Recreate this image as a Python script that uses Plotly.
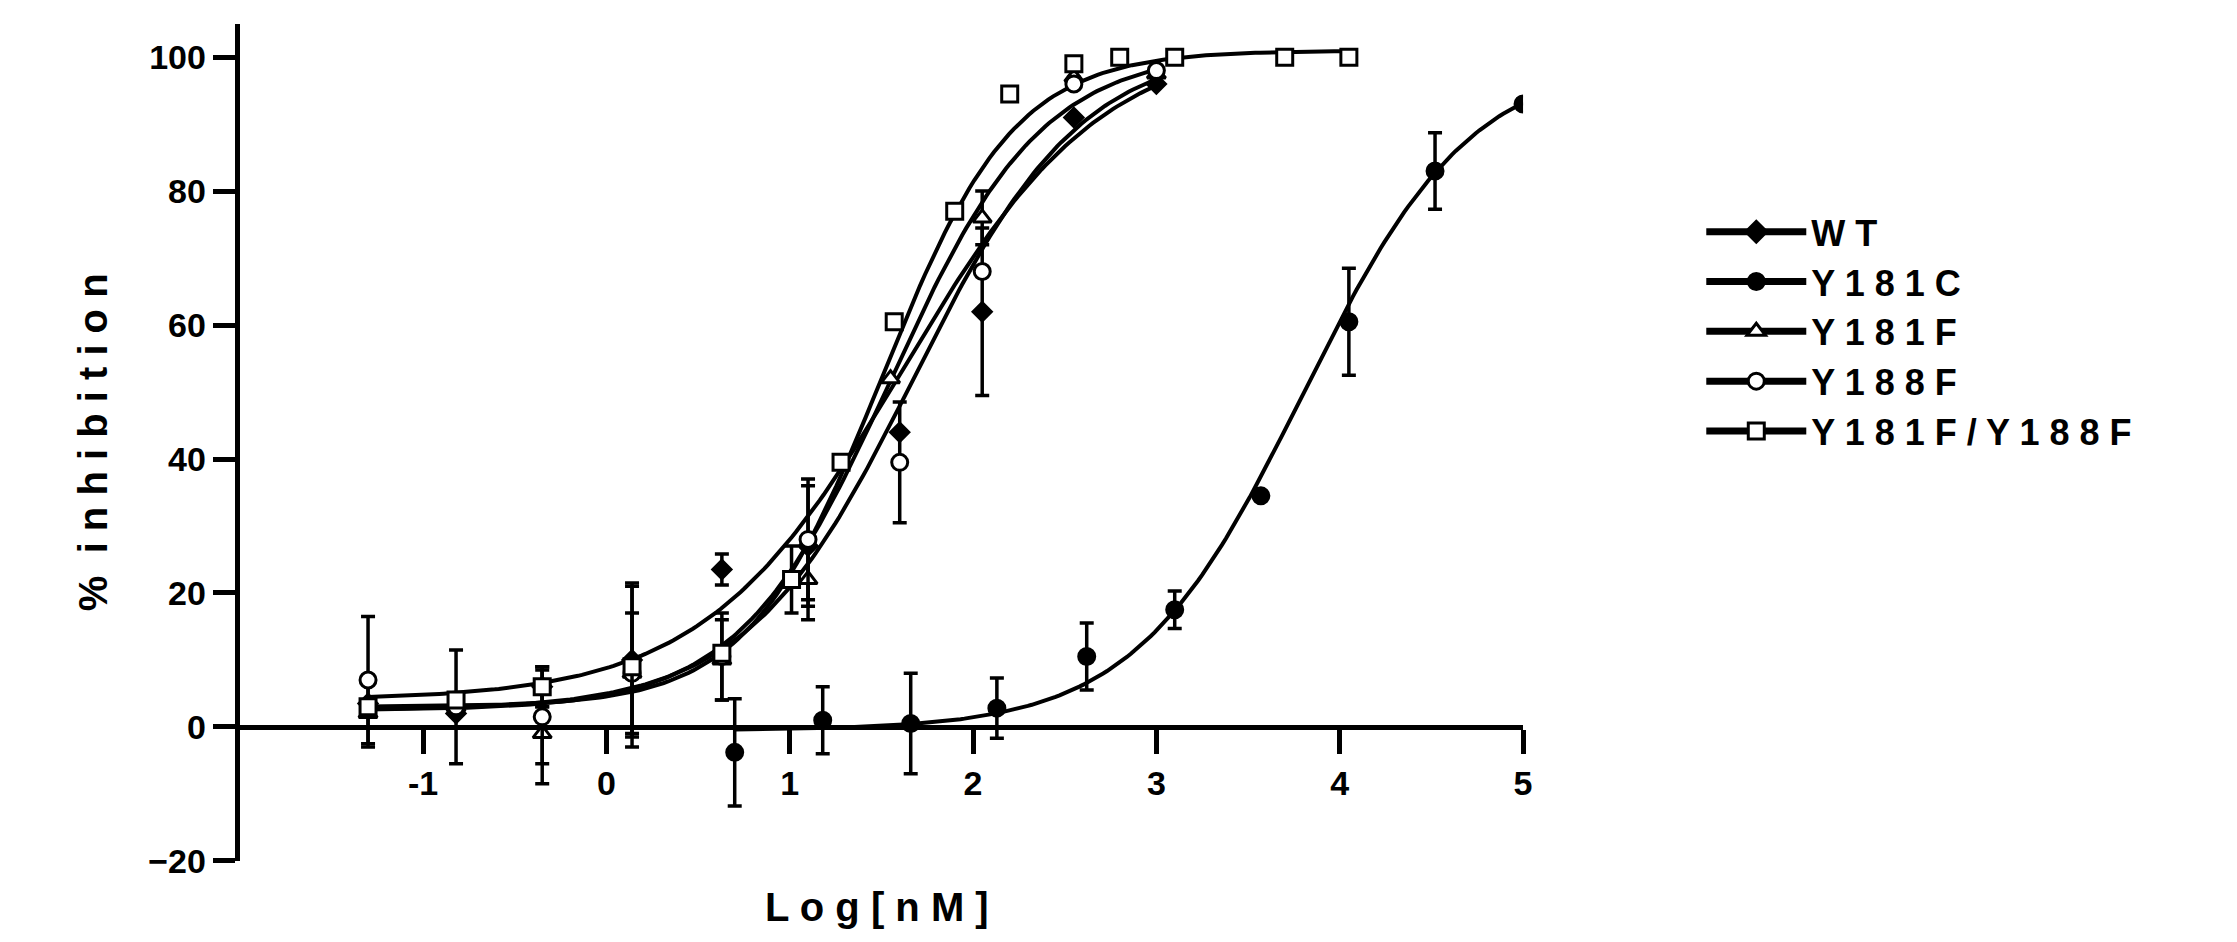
import numpy as np
import plotly.graph_objects as go

# data
names = ['W T', 'Y 1 8 1 C', 'Y 1 8 1 F', 'Y 1 8 8 F', 'Y 1 8 1 F / Y 1 8 8 F']
symbols = ['diamond', 'circle', 'triangle-up', 'circle', 'square']
fills = ['black', 'black', 'white', 'white', 'white']

wt_x = [-1.3, -0.82, -0.35, 0.14, 0.63, 1.1, 1.6, 2.05, 2.55, 3.0]
wt_y = [3.5, 2, 6, 10, 23.5, 27, 44, 62, 91, 96]
wt_e = [0, 0, 3, 11.5, 2.3, 9, 0, 12.5, 0, 0]

c_x = [0.70, 1.18, 1.66, 2.13, 2.62, 3.10, 3.57, 4.05, 4.52, 5.0]
c_y = [-3.8, 1, 0.5, 2.8, 10.5, 17.5, 34.5, 60.5, 83, 93]
c_e = [8, 5, 7.5, 4.5, 5, 2.8, 0, 8, 5.7, 0]

f_x = [-1.3, -0.82, -0.35, 0.14, 0.63, 1.1, 1.55, 2.05, 2.55, 3.0]
f_y = [2, 3, -1, 8, 10, 22, 52, 76, 97, 97.5]
f_e = [5, 0, 7.5, 0, 6, 6, 0, 4, 0, 0]

g_x = [-1.3, -0.82, -0.35, 0.14, 0.63, 1.1, 1.6, 2.05, 2.55, 3.0]
g_y = [7, 3, 1.5, 8, 10.5, 28, 39.5, 68, 96, 98]
g_e = [9.5, 8.5, 7, 9, 6.5, 9, 9, 0, 0, 0]

s_x = [-1.3, -0.82, -0.35, 0.14, 0.63, 1.01, 1.28, 1.57, 1.9, 2.2, 2.55, 2.8, 3.1, 3.7, 4.05]
s_y = [3, 4, 6, 9, 11, 22, 39.5, 60.5, 77, 94.5, 99, 100, 100, 100, 100]
s_e = [0, 0, 3, 12, 0, 5, 0, 0, 0, 0, 0, 0, 0, 0, 0]

# 4PL fit parameters: bottom, top, logIC50, hill, x span
fit_bottom = [4, -0.5, 2.5, 2.5, 3]
fit_top = [103, 100, 101, 102, 101]
fit_logic50 = [1.62, 3.8, 1.55, 1.68, 1.5]
fit_hill = [0.8, 0.95, 1.05, 0.95, 1.2]
fit_span = [(-1.3, 3.0), (0.7, 5.0), (-1.3, 3.0), (-1.3, 3.0), (-1.3, 4.05)]

series = [(wt_x, wt_y, wt_e), (c_x, c_y, c_e), (f_x, f_y, f_e), (g_x, g_y, g_e), (s_x, s_y, s_e)]

fig = go.Figure()
for i, (x, y, e) in enumerate(series):
    xs = np.linspace(fit_span[i][0], fit_span[i][1], 200)
    ys = fit_bottom[i] + (fit_top[i] - fit_bottom[i]) / (1 + 10 ** ((fit_logic50[i] - xs) * fit_hill[i]))
    fig.add_trace(go.Scatter(x=xs, y=ys, mode='lines', line=dict(color='black', width=4),
                             showlegend=False, hoverinfo='skip'))
for i, (x, y, e) in enumerate(series):
    fig.add_trace(go.Scatter(
        x=x, y=y, mode='markers', showlegend=False,
        marker=dict(symbol=symbols[i], size=16 if i != 0 else 14, color=fills[i],
                    line=dict(color='black', width=3)),
        error_y=dict(type='data', array=e, color='black', thickness=3.5, width=7),
    ))
# legend entries
for i in range(len(names)):
    fig.add_trace(go.Scatter(x=[None], y=[None], mode='lines+markers', name=names[i],
                             line=dict(color='black', width=7),
                             marker=dict(symbol=symbols[i], size=20, color=fills[i],
                                         line=dict(color='black', width=3))))

bold = dict(family='Liberation Sans, Arial', color='black', weight='bold')
fig.update_layout(
    width=2237, height=942, plot_bgcolor='white', paper_bgcolor='white',
    margin=dict(l=0, r=0, t=0, b=0),
    xaxis=dict(domain=[0.104, 0.68], range=[-2, 5], anchor='free', position=0.221,
               tickvals=[-1, 0, 1, 2, 3, 4, 5], ticktext=['-1', '0', '1', '2', '3', '4', '5'],
               showline=True, linecolor='black', linewidth=5,
               ticks='outside', ticklen=24, tickwidth=5, tickcolor='black', showgrid=False,
               zeroline=False, tickfont=dict(size=34, **bold)),
    yaxis=dict(domain=[0.076, 0.983], range=[-20, 105], tickvals=[-20, 0, 20, 40, 60, 80, 100],
               showline=True, linecolor='black', linewidth=5, ticks='outside', ticklen=22,
               tickwidth=5, tickcolor='black', showgrid=False, zeroline=False,
               tickfont=dict(size=34, **bold),
               title=dict(text='%  i n h i b i t i o n', standoff=30,
                          font=dict(size=40, **bold))),
    legend=dict(x=0.76, y=0.79, xanchor='left', yanchor='top', itemwidth=100,
                tracegroupgap=0, font=dict(size=36, **bold), bgcolor='rgba(0,0,0,0)'),
    annotations=[dict(text='L o g [ n M ]', x=0.39, y=0.0, xref='paper', yref='paper',
                      xanchor='center', yanchor='bottom', showarrow=False,
                      font=dict(size=40, **bold))],
)
fig.write_html('out.html')
